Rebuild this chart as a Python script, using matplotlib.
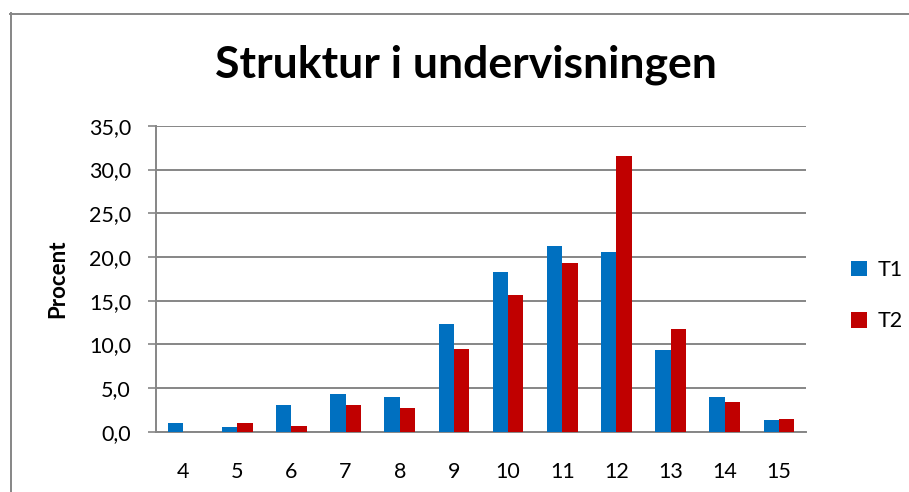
import numpy as np
import matplotlib.pyplot as plt
from matplotlib.lines import Line2D

plt.rcParams['font.family'] = ['Lato', 'DejaVu Sans']

kategorier = ['4', '5', '6', '7', '8', '9', '10', '11', '12', '13', '14', '15']
t1 = [1.0, 0.5, 3.0, 4.3, 4.0, 12.3, 18.3, 21.3, 20.6, 9.3, 4.0, 1.3]
t2 = [0.0, 1.0, 0.7, 3.0, 2.7, 9.5, 15.6, 19.3, 31.5, 11.8, 3.4, 1.4]
y_ticks = [0, 5, 10, 15, 20, 25, 30, 35]

fig = plt.figure(figsize=(9.09, 4.92), dpi=100)
ax = fig.add_axes([0.1716, 0.1226, 0.715, 0.6215])

x = np.arange(len(kategorier))
b = 0.283
ax.bar(x - b / 2, t1, width=b, color='#0070C0', label='T1', zorder=3)
ax.bar(x + b / 2, t2, width=b, color='#C00000', label='T2', zorder=3)

ax.set_xlim(-0.5, len(kategorier) - 0.5)
ax.set_ylim(0, 35)
ax.set_yticks(y_ticks)
ax.set_yticklabels([f'{v:.1f}'.replace('.', ',') for v in y_ticks])
ax.set_xticks(x)
ax.set_xticklabels(kategorier)
ax.tick_params(axis='y', length=6, width=1.2, color='#868686', labelsize=15.5, pad=12)
ax.tick_params(axis='x', length=0, labelsize=15.5, pad=22)

ax.grid(axis='y', color='#868686', linewidth=1.4, zorder=0)
for s in ['top', 'right']:
    ax.spines[s].set_visible(False)
for s in ['left', 'bottom']:
    ax.spines[s].set_color('#868686')
    ax.spines[s].set_linewidth(1.4)

ax.set_ylabel('Procent', fontsize=16, fontweight='bold', labelpad=15)
fig.text(0.513, 0.868, 'Struktur i undervisningen', fontsize=32, fontweight='bold',
         ha='center', va='center')

ax.legend(loc='center left', bbox_to_anchor=(1.04, 0.445), frameon=False, fontsize=15.5,
          handlelength=0.75, handleheight=0.75, handletextpad=0.45, labelspacing=1.45)

# ramme om diagrammet
fig.add_artist(Line2D([10.5 / 909, 10.5 / 909], [0, 1 - 13 / 492], color='#868686', lw=1.4))
fig.add_artist(Line2D([10 / 909, 1], [1 - 13.5 / 492, 1 - 13.5 / 492], color='#868686', lw=1.4))

fig.savefig('out.png', dpi=100)
